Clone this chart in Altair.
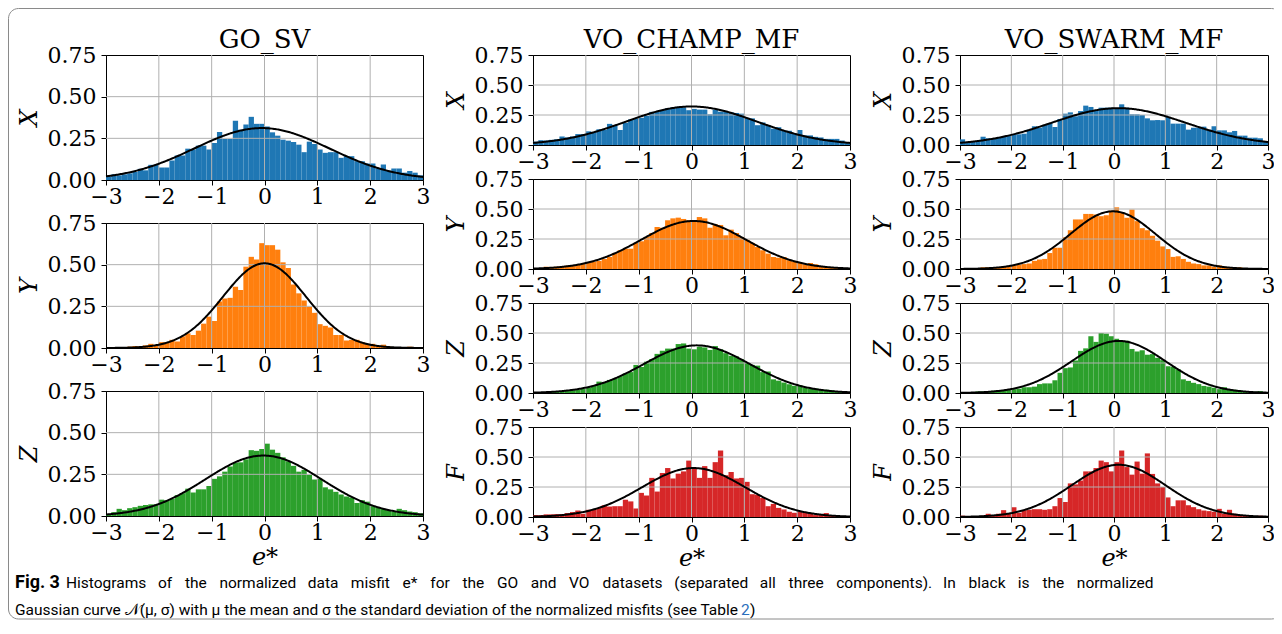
import altair as alt
import pandas as pd
import numpy as np

# ---------------- data (density per 0.1-wide bin, from -3 to 3) ----------------
edges = [round(-3 + 0.1 * i, 1) for i in range(61)]

go_x = [0.020, 0.034, 0.028, 0.034, 0.040, 0.048, 0.067, 0.058, 0.091, 0.091,
        0.075, 0.075, 0.117, 0.147, 0.147, 0.188, 0.183, 0.206, 0.206, 0.183,
        0.222, 0.288, 0.246, 0.246, 0.355, 0.302, 0.333, 0.379, 0.337, 0.337,
        0.321, 0.286, 0.266, 0.242, 0.236, 0.228, 0.212, 0.167, 0.230, 0.216,
        0.183, 0.163, 0.167, 0.167, 0.133, 0.143, 0.143, 0.113, 0.113, 0.099,
        0.099, 0.071, 0.093, 0.056, 0.069, 0.069, 0.044, 0.054, 0.044, 0.028]
go_y = [0.002, 0.002, 0.002, 0.004, 0.008, 0.012, 0.010, 0.016, 0.025, 0.016,
        0.035, 0.035, 0.049, 0.039, 0.070, 0.088, 0.078, 0.104, 0.146, 0.188,
        0.162, 0.279, 0.297, 0.301, 0.367, 0.348, 0.488, 0.547, 0.531, 0.629,
        0.617, 0.617, 0.590, 0.514, 0.480, 0.381, 0.328, 0.285, 0.246, 0.211,
        0.143, 0.133, 0.123, 0.078, 0.078, 0.045, 0.049, 0.049, 0.035, 0.025,
        0.025, 0.012, 0.020, 0.008, 0.006, 0.004, 0.002, 0.008, 0.002, 0.002]
go_z = [0.012, 0.023, 0.043, 0.035, 0.047, 0.053, 0.061, 0.066, 0.070, 0.070,
        0.098, 0.094, 0.102, 0.125, 0.137, 0.164, 0.141, 0.160, 0.160, 0.180,
        0.223, 0.238, 0.266, 0.297, 0.320, 0.322, 0.340, 0.395, 0.391, 0.402,
        0.434, 0.398, 0.379, 0.352, 0.328, 0.301, 0.266, 0.277, 0.246, 0.219,
        0.223, 0.172, 0.160, 0.145, 0.129, 0.117, 0.111, 0.078, 0.094, 0.086,
        0.059, 0.053, 0.043, 0.035, 0.027, 0.043, 0.035, 0.027, 0.023, 0.016]

champ_x = [0.028, 0.040, 0.037, 0.043, 0.048, 0.071, 0.063, 0.071, 0.091, 0.091,
           0.114, 0.108, 0.131, 0.125, 0.176, 0.165, 0.125, 0.185, 0.213, 0.222,
           0.227, 0.244, 0.276, 0.278, 0.290, 0.307, 0.313, 0.318, 0.313, 0.290,
           0.301, 0.295, 0.295, 0.256, 0.295, 0.278, 0.278, 0.273, 0.267, 0.261,
           0.227, 0.222, 0.165, 0.188, 0.165, 0.136, 0.148, 0.119, 0.119, 0.097,
           0.125, 0.080, 0.080, 0.068, 0.063, 0.051, 0.051, 0.051, 0.037, 0.023]
champ_y = [0.003, 0.003, 0.019, 0.017, 0.019, 0.025, 0.028, 0.028, 0.036, 0.042,
           0.050, 0.061, 0.067, 0.083, 0.100, 0.133, 0.156, 0.169, 0.169, 0.217,
           0.231, 0.267, 0.300, 0.350, 0.344, 0.406, 0.422, 0.428, 0.417, 0.406,
           0.406, 0.433, 0.422, 0.344, 0.372, 0.367, 0.281, 0.328, 0.300, 0.267,
           0.244, 0.217, 0.183, 0.156, 0.128, 0.100, 0.094, 0.100, 0.072, 0.061,
           0.050, 0.039, 0.050, 0.039, 0.025, 0.017, 0.011, 0.008, 0.008, 0.006]
champ_z = [0.005, 0.005, 0.008, 0.008, 0.011, 0.014, 0.016, 0.022, 0.027, 0.033,
           0.043, 0.060, 0.095, 0.087, 0.109, 0.120, 0.141, 0.163, 0.174, 0.234,
           0.217, 0.261, 0.283, 0.326, 0.353, 0.370, 0.370, 0.408, 0.413, 0.370,
           0.364, 0.386, 0.380, 0.359, 0.391, 0.364, 0.332, 0.310, 0.304, 0.283,
           0.250, 0.234, 0.228, 0.174, 0.179, 0.114, 0.103, 0.087, 0.073, 0.060,
           0.065, 0.043, 0.038, 0.038, 0.027, 0.027, 0.022, 0.016, 0.011, 0.008]
champ_f = [0.016, 0.016, 0.022, 0.022, 0.024, 0.024, 0.033, 0.041, 0.054, 0.027,
           0.060, 0.065, 0.076, 0.098, 0.087, 0.090, 0.090, 0.144, 0.130, 0.071,
           0.201, 0.179, 0.326, 0.212, 0.367, 0.408, 0.321, 0.361, 0.380, 0.470,
           0.402, 0.326, 0.424, 0.326, 0.457, 0.554, 0.348, 0.375, 0.321, 0.326,
           0.293, 0.190, 0.185, 0.158, 0.090, 0.109, 0.076, 0.063, 0.043, 0.035,
           0.043, 0.035, 0.027, 0.016, 0.022, 0.033, 0.016, 0.011, 0.008, 0.008]

swarm_x = [0.047, 0.022, 0.028, 0.033, 0.069, 0.056, 0.056, 0.061, 0.067, 0.083,
           0.089, 0.089, 0.094, 0.128, 0.156, 0.144, 0.167, 0.183, 0.150, 0.217,
           0.261, 0.272, 0.239, 0.283, 0.328, 0.317, 0.289, 0.311, 0.311, 0.311,
           0.300, 0.339, 0.311, 0.256, 0.256, 0.250, 0.222, 0.206, 0.208, 0.206,
           0.233, 0.178, 0.178, 0.178, 0.128, 0.144, 0.144, 0.153, 0.128, 0.156,
           0.122, 0.122, 0.106, 0.117, 0.078, 0.078, 0.061, 0.061, 0.056, 0.033]
swarm_y = [0.005, 0.005, 0.003, 0.003, 0.014, 0.014, 0.014, 0.011, 0.019, 0.024,
           0.030, 0.035, 0.041, 0.046, 0.068, 0.079, 0.084, 0.133, 0.177, 0.177,
           0.264, 0.323, 0.413, 0.413, 0.459, 0.459, 0.454, 0.440, 0.448, 0.486,
           0.514, 0.467, 0.427, 0.495, 0.399, 0.340, 0.323, 0.277, 0.236, 0.188,
           0.166, 0.101, 0.106, 0.084, 0.060, 0.046, 0.041, 0.030, 0.030, 0.019,
           0.030, 0.019, 0.011, 0.008, 0.014, 0.005, 0.003, 0.008, 0.003, 0.003]
swarm_z = [0.003, 0.003, 0.005, 0.013, 0.013, 0.013, 0.019, 0.024, 0.024, 0.027,
           0.032, 0.035, 0.048, 0.048, 0.053, 0.074, 0.080, 0.080, 0.106, 0.168,
           0.207, 0.213, 0.271, 0.351, 0.372, 0.473, 0.426, 0.500, 0.495, 0.473,
           0.452, 0.436, 0.436, 0.367, 0.346, 0.356, 0.319, 0.324, 0.293, 0.274,
           0.223, 0.218, 0.197, 0.114, 0.101, 0.085, 0.074, 0.059, 0.053, 0.043,
           0.032, 0.048, 0.032, 0.027, 0.019, 0.016, 0.011, 0.011, 0.016, 0.005]
swarm_f = [0.011, 0.002, 0.008, 0.002, 0.011, 0.027, 0.011, 0.027, 0.057, 0.027,
           0.082, 0.035, 0.057, 0.060, 0.065, 0.065, 0.060, 0.065, 0.090, 0.158,
           0.125, 0.280, 0.272, 0.304, 0.380, 0.380, 0.408, 0.470, 0.457, 0.380,
           0.457, 0.554, 0.416, 0.353, 0.462, 0.361, 0.530, 0.359, 0.280, 0.250,
           0.163, 0.090, 0.139, 0.139, 0.098, 0.082, 0.065, 0.054, 0.049, 0.043,
           0.068, 0.027, 0.060, 0.027, 0.016, 0.011, 0.011, 0.008, 0.011, 0.005]

# fitted Gaussian parameters (mean, std)
go_mu = [-0.05, 0.00, -0.02]
go_sigma = [1.28, 0.785, 1.10]
champ_mu = [0.00, 0.04, 0.10, 0.04]
champ_sigma = [1.243, 0.997, 1.005, 0.978]
swarm_mu = [0.09, -0.02, 0.09, 0.09]
swarm_sigma = [1.30, 0.83, 0.92, 0.917]

titles = ["GO_SV", "VO_CHAMP_MF", "VO_SWARM_MF"]
x_ticks = [-3, -2, -1, 0, 1, 2, 3]
y_ticks = [0.0, 0.25, 0.5, 0.75]

COLORS = {"X": "#1f77b4", "Y": "#ff7f0e", "Z": "#2ca02c", "F": "#d62728"}
SERIF = "DejaVu Serif"
SANS = "Roboto"
GRID = "#b0b0b0"

one = pd.DataFrame({"k": [0]})


def ghost(x, x2, y, y2):
    # invisible spacer that fixes the layout bounds of a panel
    return alt.Chart(one).mark_rect(opacity=0).encode(
        x=alt.value(x), x2=alt.value(x2), y=alt.value(y), y2=alt.value(y2))


def panel(vals, comp, mu, sigma, w, h, title=None, xtitle=False, ghosts=()):
    df = pd.DataFrame({"x0": edges[:-1], "x1": edges[1:], "d": vals,
                       "base": [0.0] * len(vals)})
    xs = np.linspace(-3, 3, 301)
    cdf = pd.DataFrame({"x0": xs,
                        "d": np.exp(-0.5 * ((xs - mu) / sigma) ** 2) / (sigma * np.sqrt(2 * np.pi))})
    xscale = alt.Scale(domain=[-3, 3], nice=False, zero=False)
    yscale = alt.Scale(domain=[0, 0.75], nice=False)
    xaxis = alt.Axis(values=x_ticks, format="d", grid=False, labelFlush=False,
                     labelOverlap=False, tickSize=5, labelPadding=1,
                     titlePadding=2)
    yaxis = alt.Axis(values=y_ticks, format=".2f", grid=False, labelFlush=False,
                     labelOverlap=False, tickSize=5, labelPadding=5,
                     titlePadding=6)
    xt = "e*" if xtitle else None
    X = lambda f: alt.X(f, scale=xscale, axis=xaxis, title=xt)
    Y = lambda f: alt.Y(f, scale=yscale, axis=yaxis, title=comp)
    bars = alt.Chart(df).mark_rect(color=COLORS[comp]).encode(
        x=X("x0:Q"), x2="x1:Q", y=Y("d:Q"), y2="base:Q")
    gx = alt.Chart(pd.DataFrame({"x0": x_ticks[1:-1]})).mark_rule(
        color=GRID, strokeWidth=1).encode(x=X("x0:Q"))
    gy = alt.Chart(pd.DataFrame({"d": y_ticks[1:-1]})).mark_rule(
        color=GRID, strokeWidth=1).encode(y=Y("d:Q"))
    curve = alt.Chart(cdf).mark_line(color="black", strokeWidth=2).encode(
        x=X("x0:Q"), y=Y("d:Q"))
    props = dict(width=w, height=h,
                 view=alt.ViewBackground(stroke="black", strokeWidth=1))
    if title:
        props["title"] = alt.TitleParams(title, font=SERIF, fontSize=26,
                                         fontWeight="normal", color="black",
                                         offset=3, dy=12, frame="group",
                                         anchor="middle")
    layers = [bars, gx, gy, curve] + [ghost(*g) for g in ghosts]
    return alt.layer(*layers).properties(**props)


W = 317
W3 = 308
H1, S1 = 125, 43
H2, S2 = 90, 34
RIGHT_G = (W, W + 13, 10, 11)
LEFT_G = (-95, -94, 10, 11)

col1 = alt.vconcat(
    panel(go_x, "X", go_mu[0], go_sigma[0], W, H1, title=titles[0], ghosts=[RIGHT_G]),
    panel(go_y, "Y", go_mu[1], go_sigma[1], W, H1),
    panel(go_z, "Z", go_mu[2], go_sigma[2], W, H1, xtitle=True),
    spacing=S1, bounds="flush")

comps = ["X", "Y", "Z", "F"]
champ = [champ_x, champ_y, champ_z, champ_f]
swarm = [swarm_x, swarm_y, swarm_z, swarm_f]

col2 = alt.vconcat(*[
    panel(champ[i], comps[i], champ_mu[i], champ_sigma[i], W, H2,
          title=titles[1] if i == 0 else None, xtitle=(i == 3),
          ghosts=[LEFT_G, RIGHT_G] if i == 0 else [])
    for i in range(4)], spacing=S2, bounds="flush")
col3 = alt.vconcat(*[
    panel(swarm[i], comps[i], swarm_mu[i], swarm_sigma[i], W3, H2,
          title=titles[2] if i == 0 else None, xtitle=(i == 3),
          ghosts=[LEFT_G] if i == 0 else [])
    for i in range(4)], spacing=S2, bounds="flush")

top = alt.hconcat(col1, col2, col3, spacing=0)

# ---------------- caption + frame (positions relative to the caption origin,
# which sits 505 px below the top-left corner of the first plot) ----------------
CAP_FS = 15.5
cap_bold = "Fig. 3"
cap_line1 = ("Histograms of the normalized data misfit e* for the GO and VO datasets "
             "(separated all three components). In black is the normalized")
cap_line2 = ("Gaussian curve \U0001D4A9(\u03bc, \u03c3) with \u03bc the mean and \u03c3 the "
             "standard deviation of the normalized misfits (see Table")
cap_ref = "2"
cap_close = ")"

# approximate Roboto advance widths (em) used to justify the first line
EM = {"a": .531, "b": .548, "c": .511, "d": .550, "e": .517, "f": .339, "g": .548,
      "h": .538, "i": .237, "k": .495, "l": .237, "m": .855, "n": .539, "o": .557,
      "p": .548, "r": .331, "s": .503, "t": .319, "z": .495, "H": .697, "I": .266,
      "G": .665, "O": .672, "V": .638, "(": .334, ")": .340, ".": .257, "*": .421}
words = cap_line1.split(" ")
wwidth = [sum(EM.get(c, 0.55) for c in wd) * CAP_FS for wd in words]
x_start, x_end = -40.0, 1046.0
gap = (x_end - x_start - sum(wwidth)) / (len(words) - 1)
wx, cur = [], x_start
for wd, ww in zip(words, wwidth):
    wx.append(cur)
    cur += ww + gap
words_df = pd.DataFrame({"w": words, "px": wx})

frame = alt.Chart(one).mark_rect(
    fillOpacity=0, fill="white", stroke="#8a8a8a", strokeWidth=1, cornerRadius=10
).encode(x=alt.value(-97.5), x2=alt.value(1175.5), y=alt.value(-551.5), y2=alt.value(59))


def txt(s, x, y, weight="normal", color="black", size=CAP_FS):
    return alt.Chart(pd.DataFrame({"t": [s]})).mark_text(
        align="left", baseline="alphabetic", font=SANS, fontSize=size,
        fontWeight=weight, color=color
    ).encode(text="t:N", x=alt.value(x), y=alt.value(y))


line1 = alt.Chart(words_df).mark_text(
    align="left", baseline="alphabetic", font=SANS, fontSize=CAP_FS, color="black"
).encode(text="w:N", x=alt.X("px:Q", scale=None), y=alt.value(28))

caption = alt.layer(
    frame,
    txt(cap_bold, -91, 28, weight="bold", size=18),
    line1,
    txt(cap_line2, -91, 55),
    txt(cap_ref, 635, 55, color="#2a6ebb"),
    txt(cap_close, 644, 55),
).properties(width=10, height=10)

chart = alt.vconcat(top, caption, spacing=505, bounds="flush").properties(
    padding={"left": 0, "top": 0, "right": -8, "bottom": 0},
    background="white",
).configure_view(stroke=None).configure_axis(
    domainColor="black", domainWidth=1, tickColor="black", tickWidth=1,
    labelFont=SERIF, labelFontSize=22, labelColor="black",
    titleFont=SERIF, titleFontSize=24, titleFontStyle="italic",
    titleFontWeight="normal", titleColor="black"
)

chart.save("out.html", embed_options={"renderer": "svg", "actions": False})
